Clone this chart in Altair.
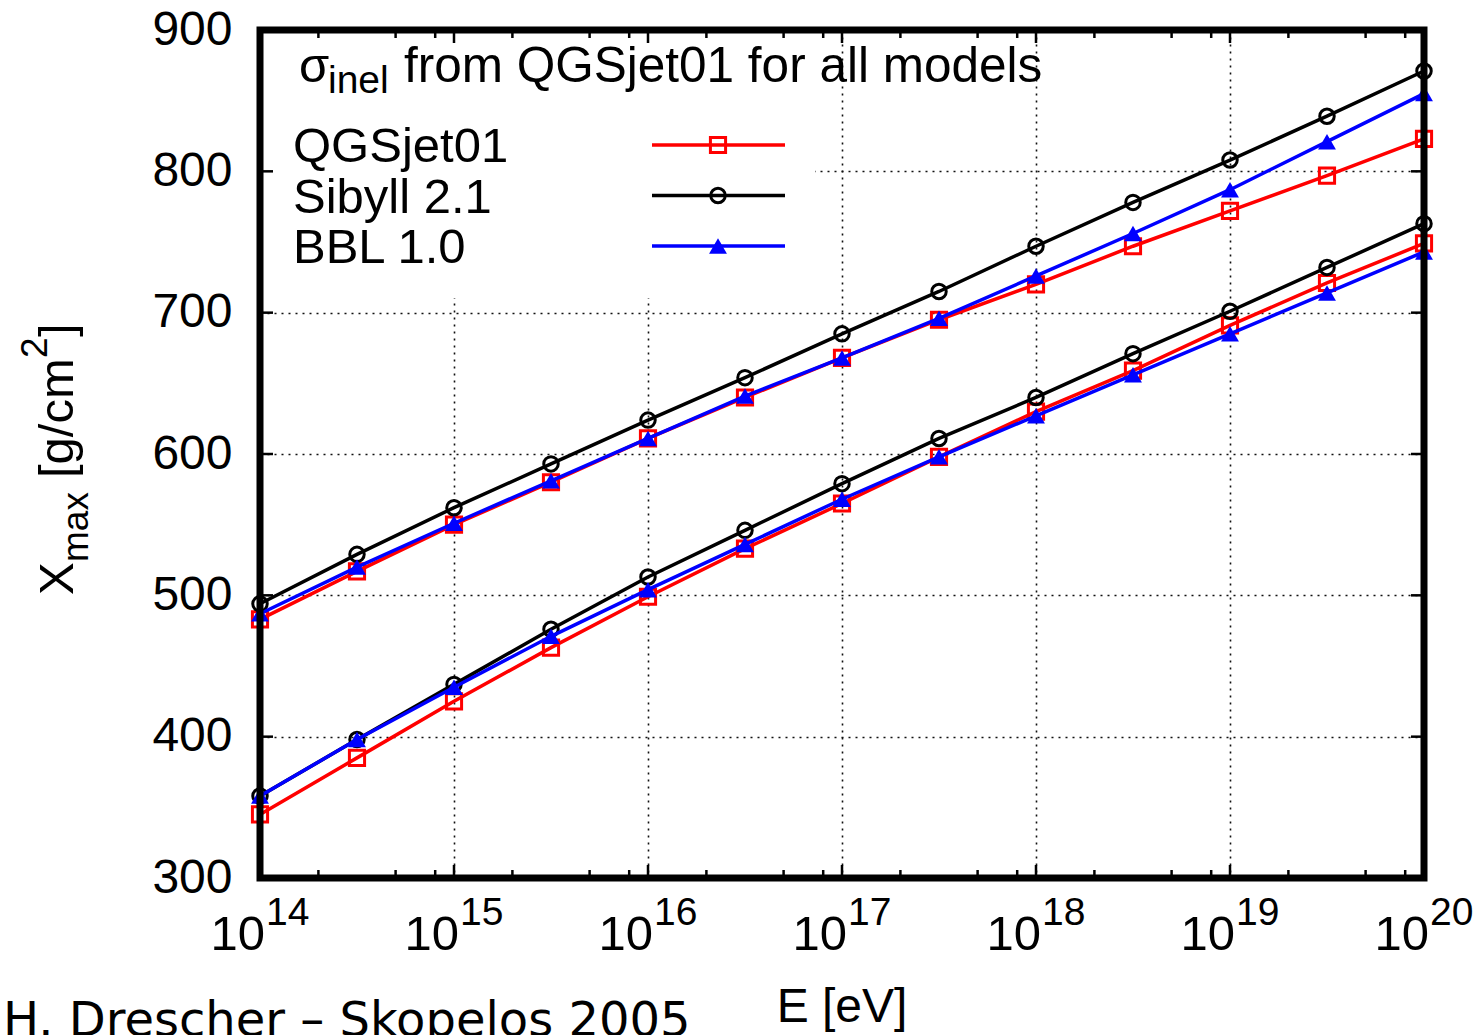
import altair as alt
import pandas as pd

# ---------------- data ----------------
ENERGY = [1e14, 3.162e14, 1e15, 3.162e15, 1e16, 3.162e16, 1e17,
          3.162e17, 1e18, 3.162e18, 1e19, 3.162e19, 1e20]

MODELS = ["QGSjet01", "Sibyll 2.1", "BBL 1.0"]
COLORS = ["#ff0000", "#000000", "#0000ff"]
SHAPES = ["square", "circle", "triangle-up"]
FILLED = [False, False, True]

# proton showers (upper set)
P_QGSJET = [483, 517, 550, 580, 611, 640, 668, 695, 720, 747, 772, 797, 823]
P_SIBYLL = [494, 529, 562, 593, 624, 654, 685, 715, 747, 778, 808, 839, 871]
P_BBL = [487, 520, 551, 581, 611, 641, 668, 696, 726, 756, 787, 821, 855]
# iron showers (lower set)
FE_QGSJET = [345, 385, 425, 463, 499, 533, 565, 598, 630, 659, 691, 721, 749]
FE_SIBYLL = [358, 398, 437, 476, 513, 546, 579, 611, 640, 671, 701, 732, 763]
FE_BBL = [358, 398, 435, 471, 504, 536, 568, 598, 627, 656, 685, 714, 743]

XTICK_VALUES = [1e14, 1e15, 1e16, 1e17, 1e18, 1e19, 1e20]
XTICK_EXP = ["14", "15", "16", "17", "18", "19", "20"]
XGRID = [1e15, 1e16, 1e17, 1e18, 1e19]
YTICKS = [300, 400, 500, 600, 700, 800, 900]
MINOR_MULT = [2, 5, 8]

TITLE_SIGMA = "σ"
TITLE_SUB = "inel"
TITLE_REST = "from QGSjet01 for all models"
XTITLE = "E [eV]"
FOOTER = "H. Drescher – Skopelos 2005"

SERIES = {
    "QGSjet01": [P_QGSJET, FE_QGSJET],
    "Sibyll 2.1": [P_SIBYLL, FE_SIBYLL],
    "BBL 1.0": [P_BBL, FE_BBL],
}

# ---------------- layout ----------------
W, H = 1164, 848
FONT = "Liberation Sans"
MSIZE = {"square": 230, "circle": 210, "triangle-up": 320}

xs = alt.Scale(type="log", domain=[1e14, 1e20], nice=False)
ys = alt.Scale(domain=[300, 900], nice=False, zero=False)

rows = []
for m in MODELS:
    for prim, vals in zip(["p", "Fe"], SERIES[m]):
        for e, v in zip(ENERGY, vals):
            rows.append({"E": e, "Xmax": v, "model": m, "primary": prim})
df = pd.DataFrame(rows)

one = pd.DataFrame({"a": [0]})
layers = []

# grid + y labels
grid = alt.Chart(df).mark_point(opacity=0).encode(
    x=alt.X("E:Q", scale=xs, axis=alt.Axis(values=XGRID, grid=True, labels=False, ticks=False,
                                           domain=False, title=None, gridDash=[2, 5],
                                           gridColor="#111", gridWidth=1.6)),
    y=alt.Y("Xmax:Q", scale=ys, axis=alt.Axis(values=YTICKS, grid=True, ticks=False, domain=False,
                                              title=None, gridDash=[2, 5], gridColor="#111",
                                              gridWidth=1.6, labelFont=FONT, labelFontSize=48,
                                              labelColor="black", labelPadding=28)),
)
layers.append(grid)

# opaque key box
layers.append(alt.Chart(one).mark_rect(fill="white").encode(
    x=alt.value(0), x2=alt.value(555), y=alt.value(0), y2=alt.value(268)))

# data
for m, c, s, f in zip(MODELS, COLORS, SHAPES, FILLED):
    d = df[df.model == m]
    layers.append(alt.Chart(d).mark_line(color=c, strokeWidth=3.5).encode(
        x=alt.X("E:Q", scale=xs), y=alt.Y("Xmax:Q", scale=ys), detail="primary:N"))
    layers.append(alt.Chart(d).mark_point(shape=s, filled=f, color=c, size=MSIZE[s], opacity=1,
                                          strokeWidth=3).encode(
        x=alt.X("E:Q", scale=xs), y=alt.Y("Xmax:Q", scale=ys)))

# key
for i, (m, c, s, f) in enumerate(zip(MODELS, COLORS, SHAPES, FILLED)):
    yl = 115 + 50.5 * i
    kd = pd.DataFrame({"model": [m]})
    layers.append(alt.Chart(kd).mark_rule(color=c, strokeWidth=3.5).encode(
        x=alt.value(392), x2=alt.value(525), y=alt.value(yl)))
    layers.append(alt.Chart(kd).mark_point(shape=s, filled=f, color=c, size=MSIZE[s], opacity=1,
                                           strokeWidth=3).encode(x=alt.value(458), y=alt.value(yl)))
    layers.append(alt.Chart(kd).mark_text(font=FONT, fontSize=49, align="left", baseline="alphabetic",
                                          color="black").encode(
        x=alt.value(33), y=alt.value(yl + 17), text="model:N"))

# key title
layers.append(alt.Chart(one).mark_text(text=TITLE_SIGMA, font=FONT, fontSize=49, align="left",
                                       baseline="alphabetic").encode(x=alt.value(39), y=alt.value(52)))
layers.append(alt.Chart(one).mark_text(text=TITLE_SUB, font=FONT, fontSize=39, align="left",
                                       baseline="alphabetic").encode(x=alt.value(68), y=alt.value(63)))
layers.append(alt.Chart(one).mark_text(text=TITLE_REST, font=FONT, fontSize=49.5, align="left",
                                       baseline="alphabetic").encode(x=alt.value(144), y=alt.value(52)))

# tick marks (inward, all four sides)
xt = pd.DataFrame({"E": XTICK_VALUES})
minor = pd.DataFrame({"E": [mm * 10.0 ** d for d in range(14, 20) for mm in MINOR_MULT]})
yt = pd.DataFrame({"Xmax": YTICKS})
for data, ln in [(xt, 13), (minor, 8)]:
    layers.append(alt.Chart(data).mark_rule(color="black", strokeWidth=2.5).encode(
        x=alt.X("E:Q", scale=xs), y=alt.value(H), y2=alt.value(H - ln)))
    layers.append(alt.Chart(data).mark_rule(color="black", strokeWidth=2.5).encode(
        x=alt.X("E:Q", scale=xs), y=alt.value(0), y2=alt.value(ln)))
layers.append(alt.Chart(yt).mark_rule(color="black", strokeWidth=2.5).encode(
    y=alt.Y("Xmax:Q", scale=ys), x=alt.value(0), x2=alt.value(13)))
layers.append(alt.Chart(yt).mark_rule(color="black", strokeWidth=2.5).encode(
    y=alt.Y("Xmax:Q", scale=ys), x=alt.value(W - 13), x2=alt.value(W)))

# frame
layers.append(alt.Chart(one).mark_rect(fillOpacity=0, stroke="black", strokeWidth=7).encode(
    x=alt.value(0), x2=alt.value(W), y=alt.value(0), y2=alt.value(H)))

# x tick labels 10^n
xl = pd.DataFrame({"E": XTICK_VALUES, "exp": XTICK_EXP, "base": ["10"] * len(XTICK_VALUES)})
layers.append(alt.Chart(xl).mark_text(font=FONT, fontSize=49, align="right", baseline="alphabetic",
                                      dx=5).encode(
    x=alt.X("E:Q", scale=xs), y=alt.value(H + 72), text="base:N"))
layers.append(alt.Chart(xl).mark_text(font=FONT, fontSize=39, align="left", baseline="alphabetic",
                                      dx=6).encode(
    x=alt.X("E:Q", scale=xs), y=alt.value(H + 47), text="exp:N"))

# x title
layers.append(alt.Chart(one).mark_text(text=XTITLE, font=FONT, fontSize=48, align="center",
                                       baseline="alphabetic").encode(x=alt.value(W / 2), y=alt.value(H + 144)))

# y title: X_max [g/cm^2]
for txt, fs, xx, yy in [("X", 49, -187, 565), ("max", 37, -172, 532), ("[g/cm", 49, -187, 448),
                        ("2", 37, -213, 328), ("]", 49, -187, 307)]:
    layers.append(alt.Chart(one).mark_text(text=txt, font=FONT, fontSize=fs, angle=270, align="left",
                                           baseline="alphabetic").encode(x=alt.value(xx), y=alt.value(yy)))

# footer (cut at the bottom edge, as in the original slide)
layers.append(alt.Chart(one).mark_text(text=FOOTER, font="DejaVu Sans", fontSize=48, align="left",
                                       baseline="alphabetic").encode(x=alt.value(-257), y=alt.value(H + 158)))

chart = alt.layer(*layers).properties(
    width=W, height=H,
    padding={"left": 260, "top": 30, "right": 51, "bottom": 157},
    autosize=alt.AutoSizeParams(type="none"),
).configure_view(stroke=None)

chart.save("out.html", embed_options={"renderer": "svg", "actions": False})
